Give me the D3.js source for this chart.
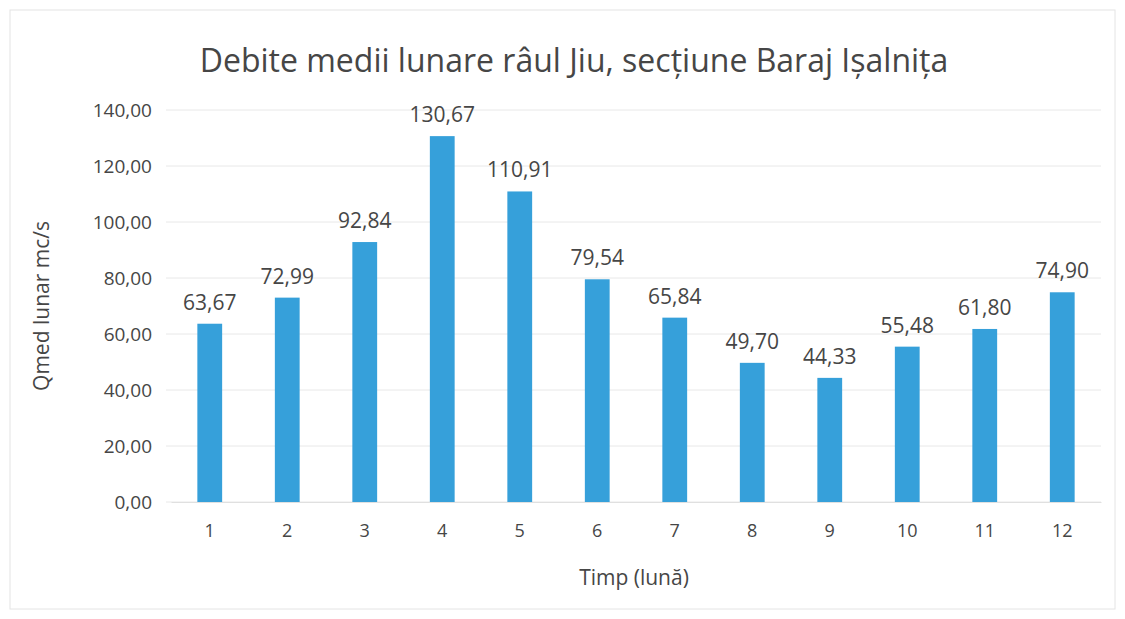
<!DOCTYPE html>
<html>
<head>
<meta charset="utf-8">
<script src="https://cdn.jsdelivr.net/npm/d3@7"></script>
<style>
  body { margin: 0; background: #fff; }
  text { font-family: "Open Sans", "Noto Sans", sans-serif; fill: #464646; }
</style>
</head>
<body>
<div id="chart"></div>
<script>
// monthly mean discharge, Jiu river at Isalnita dam
var months = ["1", "2", "3", "4", "5", "6", "7", "8", "9", "10", "11", "12"];
var debite = [63.67, 72.99, 92.84, 130.67, 110.91, 79.54, 65.84, 49.70, 44.33, 55.48, 61.80, 74.90];
var yTicks = [0, 20, 40, 60, 80, 100, 120, 140];

var W = 1125, H = 619;
var margin = {top: 110, right: 24, bottom: 117, left: 171};
var width = W - margin.left - margin.right,
    height = H - margin.top - margin.bottom;

var fmt = function(v) { return d3.format(".2f")(v).replace(".", ","); };

var svg = d3.select("#chart").append("svg")
    .attr("width", W)
    .attr("height", H);

// faint frame of the chart area
svg.append("rect")
    .attr("x", 10).attr("y", 10)
    .attr("width", W - 20).attr("height", H - 20)
    .attr("fill", "none")
    .attr("stroke", "#e4e4e4");

var g = svg.append("g")
    .attr("transform", "translate(" + margin.left + "," + margin.top + ")");

var x = d3.scaleBand()
    .domain(months)
    .range([0, width])
    .paddingInner(0.68)
    .paddingOuter(0.34);

var y = d3.scaleLinear()
    .domain([0, 140])
    .range([height, 0]);

// gridlines
g.append("g")
    .selectAll("line")
    .data(yTicks)
    .enter().append("line")
    .attr("x1", -5).attr("x2", width)
    .attr("y1", function(d) { return y(d); })
    .attr("y2", function(d) { return y(d); })
    .attr("stroke", "#e8e8e8")
    .attr("stroke-width", 1);

// y axis
var yAxis = g.append("g")
    .call(d3.axisLeft(y).tickValues(yTicks).tickFormat(fmt).tickSize(0).tickPadding(19));
yAxis.select(".domain").remove();
yAxis.selectAll("text").style("font-size", "19px").attr("fill", "#464646");

// x axis
var xAxis = g.append("g")
    .attr("transform", "translate(0," + height + ")")
    .call(d3.axisBottom(x).tickSize(0).tickPadding(22));
xAxis.select(".domain").attr("stroke", "#e0e0e0");
xAxis.selectAll("text").style("font-size", "18px").attr("fill", "#464646");

// bars
g.selectAll(".bar")
    .data(debite)
    .enter().append("rect")
    .attr("class", "bar")
    .attr("x", function(d, i) { return x(months[i]); })
    .attr("width", x.bandwidth())
    .attr("y", function(d) { return y(d); })
    .attr("height", function(d) { return height - y(d); })
    .attr("fill", "#36a0da");

// value labels
g.selectAll(".lbl")
    .data(debite)
    .enter().append("text")
    .attr("class", "lbl")
    .attr("x", function(d, i) { return x(months[i]) + x.bandwidth() / 2; })
    .attr("y", function(d) { return y(d) - 14; })
    .attr("text-anchor", "middle")
    .style("font-size", "21px")
    .text(function(d) { return fmt(d); });

// title
svg.append("text")
    .attr("x", 574)
    .attr("y", 72)
    .attr("text-anchor", "middle")
    .style("font-size", "32px")
    .text("Debite medii lunare râul Jiu, secțiune Baraj Ișalnița");

// axis titles
svg.append("text")
    .attr("transform", "translate(49," + (margin.top + height / 2) + ") rotate(-90)")
    .attr("text-anchor", "middle")
    .style("font-size", "21px")
    .text("Qmed lunar mc/s");

svg.append("text")
    .attr("x", 634)
    .attr("y", 585)
    .attr("text-anchor", "middle")
    .style("font-size", "21px")
    .text("Timp (lună)");
</script>
</body>
</html>
